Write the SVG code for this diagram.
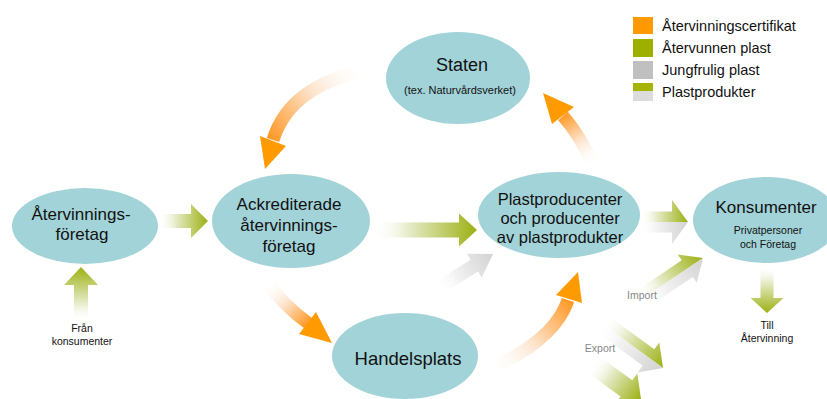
<svg xmlns="http://www.w3.org/2000/svg" width="827" height="399" viewBox="0 0 827 399">
<style>
text{font-family:"Liberation Sans",Arial,sans-serif;fill:#111;text-anchor:middle}
.node{fill:#a2d3d8}
.big{font-size:17px}
.sm{font-size:10.5px}
.gr{fill:#888}
.leg{font-size:14.5px;text-anchor:start}
.oh{fill:#ff9a00}
</style>
<defs>
<linearGradient id="gG" x1="0" y1="0" x2="1" y2="0">
<stop offset="0" stop-color="#fff" stop-opacity="0"/>
<stop offset="0.35" stop-color="#e6ebc8"/>
<stop offset="1" stop-color="#9cb012"/>
</linearGradient>
<linearGradient id="gY" x1="0" y1="0" x2="1" y2="0">
<stop offset="0" stop-color="#fff" stop-opacity="0"/>
<stop offset="0.35" stop-color="#f2f2f2"/>
<stop offset="1" stop-color="#d2d2d2"/>
</linearGradient>
<linearGradient id="oA" gradientUnits="userSpaceOnUse" x1="368" y1="70" x2="273" y2="140">
<stop offset="0" stop-color="#fff" stop-opacity="0"/>
<stop offset="0.5" stop-color="#fde2c9"/>
<stop offset="1" stop-color="#ff9a2a"/>
</linearGradient>
<linearGradient id="oB" gradientUnits="userSpaceOnUse" x1="593" y1="165" x2="563" y2="116">
<stop offset="0" stop-color="#fff" stop-opacity="0"/>
<stop offset="0.5" stop-color="#fde2c9"/>
<stop offset="1" stop-color="#ff9a2a"/>
</linearGradient>
<linearGradient id="oC" gradientUnits="userSpaceOnUse" x1="267" y1="282" x2="308" y2="323">
<stop offset="0" stop-color="#fff" stop-opacity="0"/>
<stop offset="0.5" stop-color="#fde2c9"/>
<stop offset="1" stop-color="#ff9a2a"/>
</linearGradient>
<linearGradient id="oD" gradientUnits="userSpaceOnUse" x1="488" y1="370" x2="568" y2="300">
<stop offset="0" stop-color="#fff" stop-opacity="0"/>
<stop offset="0.5" stop-color="#fde2c9"/>
<stop offset="1" stop-color="#ff9a2a"/>
</linearGradient>
</defs>

<g id="connectors">
<path d="M368 70 Q290 85 273 140" fill="none" stroke="url(#oA)" stroke-width="13"/>
<polygon class="oh" points="260,136 286,146 265,169"/>
<path d="M593 165 Q580 135 563 116" fill="none" stroke="url(#oB)" stroke-width="13"/>
<polygon class="oh" points="574,107 552,124 543,93"/>
<path d="M267 282 Q283 305 308 323" fill="none" stroke="url(#oC)" stroke-width="13"/>
<polygon class="oh" points="316,312 299,334 332,343"/>
<path d="M488 370 Q555 340 568 300" fill="none" stroke="url(#oD)" stroke-width="13"/>
<polygon class="oh" points="556,295 582,303 578,272"/>
<polygon transform="translate(208,221)" fill="url(#gG)" points="-50,-7 -17,-7 -17,-17 0,0 -17,17 -17,7 -50,7"/>
<polygon transform="translate(81,267) rotate(-90)" fill="url(#gG)" points="-55,-7 -18,-7 -18,-17 0,0 -18,17 -18,7 -55,7"/>
<polygon transform="translate(477,230)" fill="url(#gG)" points="-105,-7.5 -18,-7.5 -18,-16.5 0,0 -18,16.5 -18,7.5 -105,7.5"/>
<polygon transform="translate(767,313) rotate(90)" fill="url(#gG)" points="-47,-6.5 -15,-6.5 -15,-16.5 0,0 -15,16.5 -15,6.5 -47,6.5"/>
<polygon transform="translate(493,254) rotate(-32)" fill="url(#gY)" points="-65,-7 -22,-7 -22,-14 0,0 -22,14 -22,7 -65,7"/>
<g transform="translate(688,222)">
<polygon fill="url(#gG)" points="-48,-10.5 -16,-10.5 -16,-22 0,0 -48,0"/>
<polygon fill="url(#gY)" points="-48,0 0,0 -16,22 -16,10.5 -48,10.5"/>
</g>
<g transform="translate(703,258) rotate(-34)">
<polygon fill="url(#gG)" points="-75,-10 -19,-10 -19,-17 0,0 -75,0"/>
<polygon fill="url(#gY)" points="-75,0 0,0 -19,17 -19,10 -75,10"/>
</g>
<g transform="translate(663,368) rotate(36)">
<polygon fill="url(#gG)" points="-75,-10 -18,-10 -18,-18.5 0,0 -75,0"/>
<polygon fill="url(#gY)" points="-75,0 0,0 -18,18.5 -18,10 -75,10"/>
</g>
<polygon transform="translate(641,399) rotate(36)" fill="url(#gG)" points="-60,-10 -18,-10 -18,-18.5 0,0 -18,18.5 -18,10 -60,10"/>
</g>

<g id="staten">
<ellipse class="node" cx="458" cy="78" rx="72" ry="46"/>
<text x="462" y="71" style="font-size:18px">Staten</text>
<text x="460" y="94" style="font-size:11px">(tex. Naturvårdsverket)</text>
</g>
<g id="atervinningsforetag">
<ellipse class="node" cx="85" cy="226" rx="73" ry="38"/>
<text class="big" x="81" y="220">Återvinnings-</text>
<text class="big" x="82" y="240">företag</text>
</g>
<g id="ackrediterade">
<ellipse class="node" cx="291" cy="221" rx="79" ry="47"/>
<text class="big" x="289" y="210">Ackrediterade</text>
<text class="big" x="289" y="231">återvinnings-</text>
<text class="big" x="289" y="252">företag</text>
</g>
<g id="plastproducenter">
<ellipse class="node" cx="559" cy="215" rx="81" ry="43"/>
<text x="560" y="205" style="font-size:16.5px">Plastproducenter</text>
<text x="560" y="224" style="font-size:16.5px">och producenter</text>
<text x="560" y="243" style="font-size:16.5px">av plastprodukter</text>
</g>
<g id="konsumenter">
<ellipse class="node" cx="766" cy="220" rx="73" ry="43"/>
<text class="big" x="766" y="213">Konsumenter</text>
<text class="sm" x="768" y="234">Privatpersoner</text>
<text class="sm" x="768" y="248">och Företag</text>
</g>
<g id="handelsplats">
<ellipse class="node" cx="405" cy="356" rx="73" ry="43"/>
<text x="408" y="365" style="font-size:18.5px">Handelsplats</text>
</g>

<g id="labels">
<text class="sm" x="82" y="332">Från</text>
<text class="sm" x="82" y="345">konsumenter</text>
<text class="sm" x="767" y="329">Till</text>
<text class="sm" x="767" y="342">Återvinning</text>
<text class="sm gr" x="642" y="299">Import</text>
<text class="sm gr" x="600" y="352">Export</text>
</g>

<g id="legend">
<rect x="633" y="17" width="20" height="17" fill="#ff9900"/>
<rect x="633" y="39" width="20" height="18" fill="#9cb000"/>
<rect x="633" y="61" width="20" height="18" fill="#c0c0c0"/>
<rect x="633" y="83" width="20" height="8" fill="#a4b400"/>
<rect x="633" y="91" width="20" height="10" fill="#dcdcdc"/>
<text class="leg" x="662" y="31">Återvinningscertifikat</text>
<text class="leg" x="662" y="53">Återvunnen plast</text>
<text class="leg" x="662" y="75">Jungfrulig plast</text>
<text class="leg" x="662" y="97">Plastprodukter</text>
</g>
</svg>
